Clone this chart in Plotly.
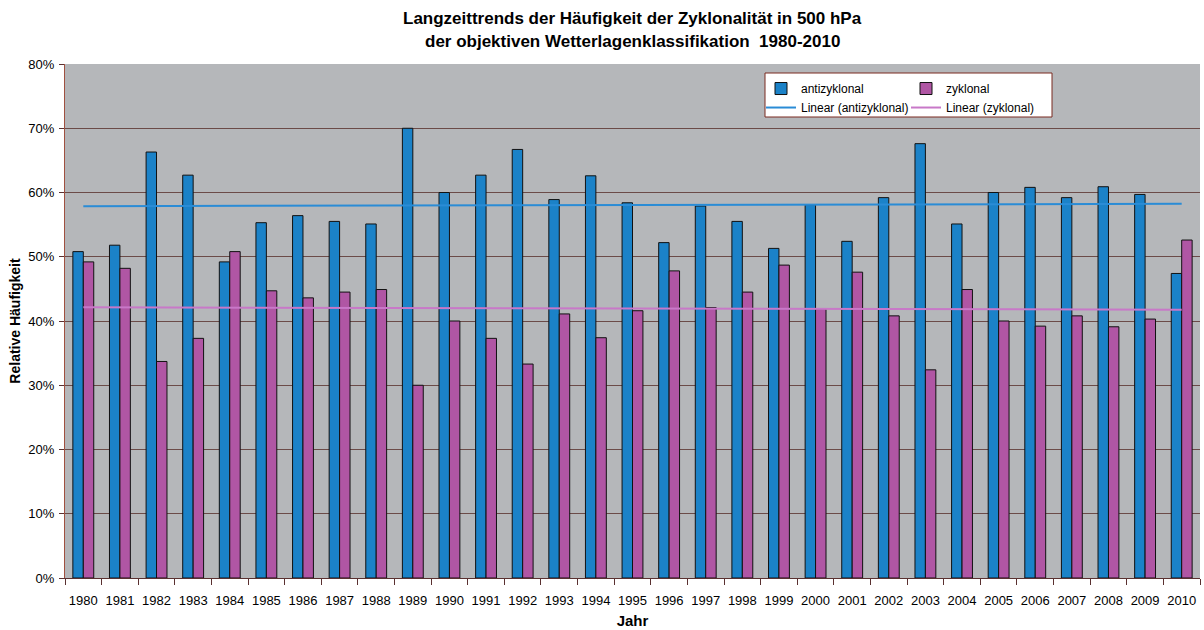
import numpy as np
import plotly.graph_objects as go

years = [str(y) for y in range(1980, 2011)]
antizyklonal = [50.8, 51.8, 66.3, 62.7, 49.2, 55.3, 56.4, 55.5, 55.1, 70.0,
                60.0, 62.7, 66.7, 58.9, 62.6, 58.4, 52.2, 57.9, 55.5, 51.3,
                58.1, 52.4, 59.2, 67.6, 55.1, 60.0, 60.8, 59.2, 60.9, 59.7, 47.4]
zyklonal = [49.2, 48.2, 33.7, 37.3, 50.8, 44.7, 43.6, 44.5, 44.9, 30.0,
            40.0, 37.3, 33.3, 41.1, 37.4, 41.6, 47.8, 42.1, 44.5, 48.7,
            41.9, 47.6, 40.8, 32.4, 44.9, 40.0, 39.2, 40.8, 39.1, 40.3, 52.6]

title_lines = ["Langzeittrends der Häufigkeit der Zyklonalität in 500 hPa",
               "der objektiven Wetterlagenklassifikation  1980-2010"]

anti = np.array(antizyklonal) / 100
zyk = np.array(zyklonal) / 100
idx = np.arange(len(years))
fa = np.polyval(np.polyfit(idx, anti, 1), idx)
fz = np.polyval(np.polyfit(idx, zyk, 1), idx)

FONT = "Liberation Sans, Arial, sans-serif"
BLUE = "#1B82C8"
MAG = "#B056A4"

fig = go.Figure()
fig.add_trace(go.Bar(x=years, y=anti, name="antizyklonal", marker=dict(color=BLUE, line=dict(color="#111", width=1)), legend="legend"))
fig.add_trace(go.Bar(x=years, y=zyk, name="zyklonal", marker=dict(color=MAG, line=dict(color="#111", width=1)), legend="legend2"))
fig.add_trace(go.Scatter(x=years, y=fa, mode="lines", name="Linear (antizyklonal)", line=dict(color="#2A8CD6", width=2), legend="legend"))
fig.add_trace(go.Scatter(x=years, y=fz, mode="lines", name="Linear (zyklonal)", line=dict(color="#C878C8", width=2), legend="legend2"))

L, R, T, B = 65, 1200, 64, 578
PW = float(R - L)
PH = float(B - T)
def py(pix):
    return (B - pix) / PH
def px(pix):
    return (pix - L) / PW

annotations = [
    dict(text="<b>%s</b>" % title_lines[0], xref="paper", yref="paper", x=0.5, y=py(18),
         showarrow=False, font=dict(size=17), xanchor="center", yanchor="middle"),
    dict(text="<b>%s</b>" % title_lines[1], xref="paper", yref="paper", x=0.5, y=py(42),
         showarrow=False, font=dict(size=17), xanchor="center", yanchor="middle"),
]

fig.update_layout(
    width=1204, height=630,
    margin=dict(l=L, r=1204 - R, t=T, b=630 - B, autoexpand=False),
    paper_bgcolor="white", plot_bgcolor="#B5B7BA",
    font=dict(family=FONT, size=13, color="black"),
    barmode="group", bargap=0.43, bargroupgap=0,
    showlegend=True,
    annotations=annotations,
    legend=dict(x=px(761), y=py(73) - 0.002, xanchor="left", yanchor="top", bgcolor="rgba(0,0,0,0)",
                borderwidth=0, font=dict(size=12), tracegroupgap=0, itemwidth=30),
    legend2=dict(x=px(906), y=py(73) - 0.002, xanchor="left", yanchor="top", bgcolor="rgba(0,0,0,0)",
                 borderwidth=0, font=dict(size=12), tracegroupgap=0, itemwidth=30),
    shapes=[dict(type="rect", xref="paper", yref="paper", x0=px(765), x1=px(1052),
                 y0=py(117), y1=py(73),
                 fillcolor="white", line=dict(color="#7A2A20", width=1), layer="below")],
)
fig.update_xaxes(type="category", tickson="boundaries", ticks="outside", ticklen=6, tickangle=0,
                 tickcolor="#5A3030", showline=True, linecolor="#5A3030", linewidth=1,
                 tickfont=dict(size=13), automargin=False, ticklabelstandoff=10,
                 title=dict(text="<b>Jahr</b>", font=dict(size=15), standoff=8),
                 showgrid=False)
fig.update_yaxes(range=[0, 0.8], dtick=0.1, tickformat=".0%", ticks="outside", ticklen=5,
                 tickcolor="#5A3030", showline=True, linecolor="#A05040", linewidth=1,
                 gridcolor="#6B4B48", gridwidth=1, zeroline=False, automargin=False,
                 tickfont=dict(size=13), ticklabelstandoff=2,
                 title=dict(text="<b>Relative Häufigkeit</b>", font=dict(size=14), standoff=4))

fig.write_html("out.html", config={"displayModeBar": False},
               post_script="document.body.style.margin='0';document.body.style.padding='0';")
